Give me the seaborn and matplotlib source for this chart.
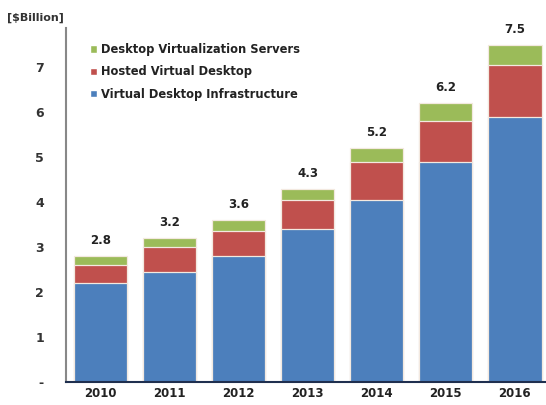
import matplotlib
matplotlib.use("Agg")
import matplotlib.pyplot as plt
import seaborn as sns
import numpy as np
import pandas as pd
from matplotlib.patches import Patch

years = ["2010", "2011", "2012", "2013", "2014", "2015", "2016"]
vdi = [2.2, 2.45, 2.8, 3.4, 4.05, 4.9, 5.9]
hosted = [0.4, 0.55, 0.55, 0.65, 0.85, 0.9, 1.15]
servers = [0.2, 0.2, 0.25, 0.25, 0.3, 0.4, 0.45]
totals = [2.8, 3.2, 3.6, 4.3, 5.2, 6.2, 7.5]
series_names = ["Desktop Virtualization Servers", "Hosted Virtual Desktop",
                "Virtual Desktop Infrastructure"]

c_blue = "#4c7fbc"
c_red = "#c0504d"
c_green = "#9bbb59"

sns.set_style("white")
plt.rcParams["font.family"] = ["DejaVu Sans"]

fig = plt.figure(figsize=(5.46, 4.05), dpi=100)
ax = fig.add_axes([0.121, 0.057, 0.879, 0.874])

df = pd.DataFrame({"year": years, "vdi": vdi, "hosted": hosted, "servers": servers})
df["c2"] = df["vdi"] + df["hosted"]
df["c3"] = df["c2"] + df["servers"]

for col, color in [("c3", c_green), ("c2", c_red), ("vdi", c_blue)]:
    sns.barplot(data=df, x="year", y=col, color=color, ax=ax, width=0.77,
                edgecolor="#f3e9e0", linewidth=0.9, saturation=1)

for i, t in enumerate(totals):
    ax.text(i, df["c3"][i] + 0.2, f"{t:.1f}", ha="center", va="bottom",
            fontsize=8.5, fontweight="bold", color="#222222")

ax.set_xlim(-0.5, 6.45)
ax.set_ylim(0, 7.87)
ax.set_yticks(range(0, 8))
ax.set_yticklabels(["-", "1", "2", "3", "4", "5", "6", "7"], fontsize=9,
                   fontweight="bold", color="#333333")
ax.set_xticks(range(7))
ax.set_xticklabels(years, fontsize=8.5, fontweight="bold", color="#222222")
ax.tick_params(axis="x", length=0, pad=4)
ax.set_xticks(np.arange(0.5, 6.5, 1), minor=True)
ax.tick_params(axis="x", which="minor", length=4, width=1, color="#555555", direction="out")
ax.tick_params(axis="y", length=4, width=1, color="#666666", direction="out", pad=12)
ax.set_xlabel("")
ax.set_ylabel("")

for s in ["top", "right"]:
    ax.spines[s].set_visible(False)
ax.spines["left"].set_color("#888888")
ax.spines["left"].set_linewidth(1.5)
ax.spines["bottom"].set_color("#1f2f4f")
ax.spines["bottom"].set_linewidth(1.5)

fig.text(0.012, 0.955, "[$Billion]", fontsize=8, fontweight="bold",
         color="#333333", ha="left", va="center")

handles = [Patch(facecolor=c_green), Patch(facecolor=c_red), Patch(facecolor=c_blue)]
leg = ax.legend(handles, series_names, loc="upper left", bbox_to_anchor=(0.04, 0.97),
                frameon=False, prop={"weight": "bold", "size": 8.3}, handlelength=0.6,
                handleheight=0.6, handletextpad=0.4, labelspacing=0.8, borderaxespad=0)
for t in leg.get_texts():
    t.set_color("#222222")

fig.savefig("out.png", dpi=100)
